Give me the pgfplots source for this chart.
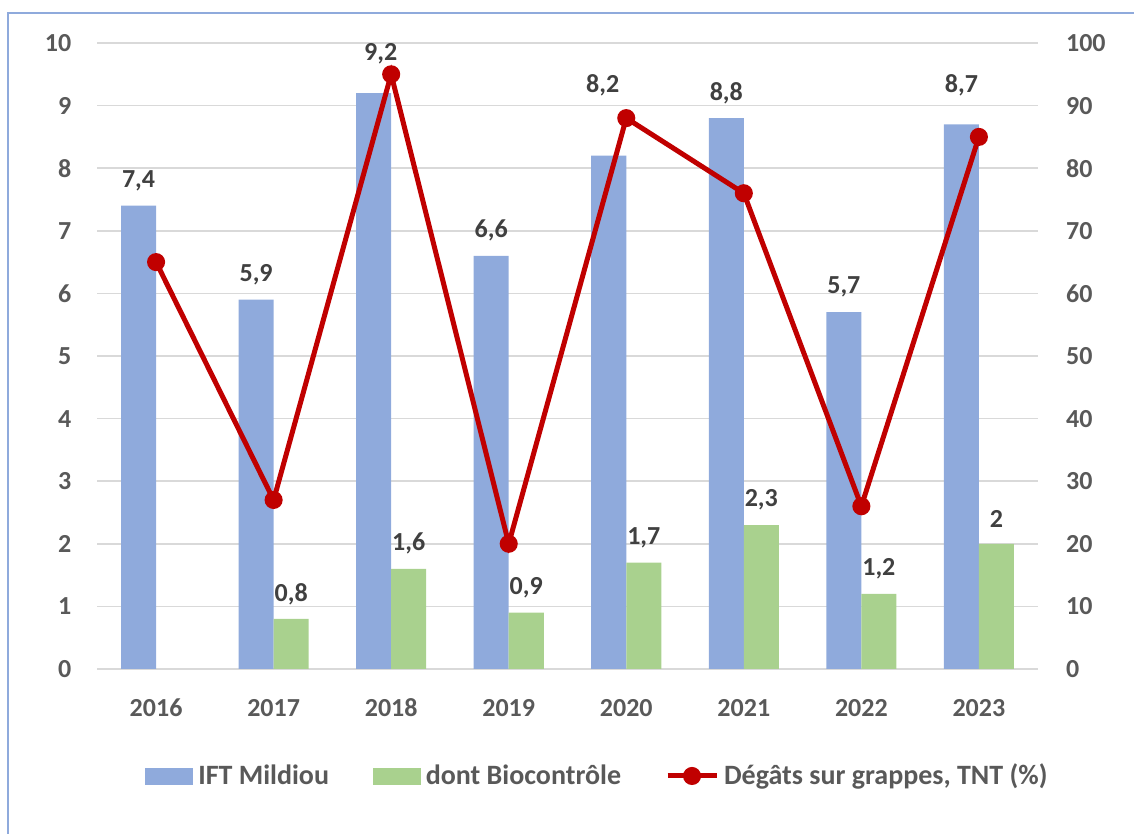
\documentclass[border=0pt]{standalone}
\usepackage{pgfplots}
\pgfplotsset{compat=1.18}
\usepackage{pgfplotstable}
\usepackage{fontspec}
\setmainfont{Carlito}

\definecolor{iftblue}{HTML}{8FAADC}
\definecolor{biogreen}{HTML}{A9D18E}
\definecolor{degred}{HTML}{C00000}
\definecolor{gridgray}{HTML}{D9D9D9}
\definecolor{ticktext}{HTML}{595959}
\definecolor{labeltext}{HTML}{404040}
\definecolor{frameblue}{HTML}{8FAADC}

% IFT Mildiou per year
\pgfplotstableread{
x v
0 7.4
1 5.9
2 9.2
3 6.6
4 8.2
5 8.8
6 5.7
7 8.7
}\ifttable

% of which biocontrol products
\pgfplotstableread{
x v
1 0.8
2 1.6
3 0.9
4 1.7
5 2.3
6 1.2
7 2
}\biotable

% damage on bunches, untreated control (%)
\pgfplotstableread{
x v
0 65
1 27
2 95
3 20
4 88
5 76
6 26
7 85
}\degtable

\newcommand{\chartfont}{\fontsize{13}{15}\selectfont\bfseries}
\newcommand{\legendfont}{\fontsize{14}{16}\selectfont\bfseries}

\begin{document}
\begin{tikzpicture}
\useasboundingbox (0,0) rectangle (567pt,417pt);
\draw[frameblue, line width=1pt] (4pt,0pt) -- (4pt,410.5pt) -- (567pt,410.5pt);

\pgfplotsset{
  chartbase/.style={
    at={(48.65pt,82.5pt)}, anchor=south west,
    scale only axis, width=470.2pt, height=313pt,
    xmin=-0.5, xmax=7.5, ymin=0,
    major tick length=0pt, tick style={draw=none},
    /pgf/number format/assume math mode=true,
    ticklabel style={font=\chartfont, text=ticktext, inner sep=0pt},
  },
  barlabels/.style={
    nodes near coords={\pgfmathprintnumber[use comma,fixed,precision=1]{\pgfplotspointmeta}},
    every node near coord/.append style={font=\chartfont, text=labeltext, anchor=center, inner sep=0pt},
  },
}

\begin{axis}[chartbase, ymax=10, ytick={0,1,...,10},
  axis x line*=bottom, axis y line*=left,
  x axis line style={draw=gridgray, line width=0.75pt, -},
  y axis line style={draw=none},
  ymajorgrids, grid style={draw=gridgray, line width=0.75pt},
  xtick={0,1,2,3,4,5,6,7},
  xticklabels={2016,2017,2018,2019,2020,2021,2022,2023},
  xticklabel style={anchor=center, yshift=-19.5pt},
  yticklabel style={anchor=east, xshift=-12.8pt},
]
% the two bars of a year sit either side of the year's centre;
% a few labels are lifted (and nudged sideways) to keep them clear of the red line
\addplot[ybar, bar width=0.298, bar shift=0pt, fill=iftblue, draw=none, barlabels,
  visualization depends on={\coordindex \as \idx},
  every node near coord/.append style={
    yshift={(12.5+0.5*{0,0,14,0,45,0,0,14}[\idx])*1pt},
    xshift={(0.5*{0,0,7,0,-6,0,0,0}[\idx])*1pt}},
] table[x expr=\thisrow{x}-0.149, y=v] {\ifttable};
\addplot[ybar, bar width=0.298, bar shift=0pt, fill=biogreen, draw=none, barlabels,
  every node near coord/.append style={yshift=12.5pt},
] table[x expr=\thisrow{x}+0.149, y=v] {\biotable};
\end{axis}

\begin{axis}[chartbase, ymax=100, ytick={0,10,...,100},
  axis y line*=right, axis x line=none,
  y axis line style={draw=none},
  yticklabel style={anchor=west, xshift=14pt},
  legend columns=3, legend cell align=left,
  legend style={at={(0.5335,-0.1709)}, anchor=center, draw=none, fill=none,
    inner sep=0pt, font=\legendfont, text=ticktext,
    nodes={inner sep=0pt, inner xsep=2.5pt},
    /tikz/every even column/.append style={column sep=19.5pt}},
]
\addlegendimage{legend image code/.code={\fill[iftblue] (0pt,-4pt) rectangle (23.5pt,4pt);}}
\addlegendentry{IFT Mildiou}
\addlegendimage{legend image code/.code={\fill[biogreen] (0pt,-4pt) rectangle (23.5pt,4pt);}}
\addlegendentry{dont Biocontrôle}
\addplot[degred, line width=2.5pt, mark=*, mark size=3.25pt, mark options={solid, fill=degred},
  legend image code/.code={\draw[degred, line width=2.5pt] (0pt,0pt) -- (24.5pt,0pt);
    \fill[degred] (12.25pt,0pt) circle (3.25pt);}]
  table[x=x, y=v] {\degtable};
\addlegendentry{Dégâts sur grappes, TNT (\%)}
\end{axis}
\end{tikzpicture}
\end{document}
